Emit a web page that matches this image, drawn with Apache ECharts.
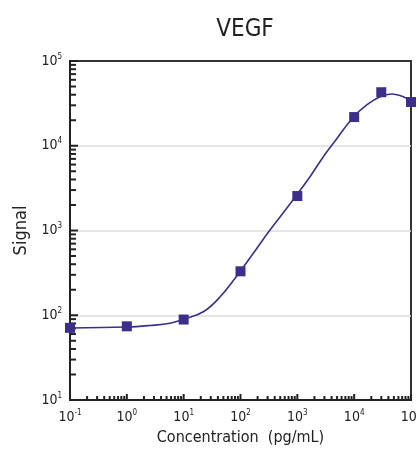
<!DOCTYPE html>
<html>
<head>
<meta charset="utf-8">
<script src="https://cdn.jsdelivr.net/npm/echarts@6/dist/echarts.min.js"></script>
<style>
html, body { margin: 0; padding: 0; background: #fff; }
#chart { width: 417px; height: 455px; }
</style>
</head>
<body>
<div id="chart"></div>
<script>
// measured points (pg/mL, signal)
var concX = [0.1, 1, 10, 100, 1000, 10000, 30000, 100000];
var signalY = [71, 74, 89, 330, 2550, 21800, 42800, 32800];
// fitted curve
var fitX = [0.1, 1, 2.56, 5.75, 9.87, 22.2, 43.5, 98, 168, 330, 650, 975, 1671, 2866, 4295, 9660, 16630, 28500, 45800, 73300, 100000];
var fitY = [70.8, 72.6, 75.7, 80.4, 89.6, 110, 164, 327, 538, 1014, 1828, 2625, 4315, 7430, 10700, 21700, 30300, 37900, 40800, 37900, 33300];
// axis decades (exponents)
var xDecades = [-1, 0, 1, 2, 3, 4, 5];
var yDecades = [1, 2, 3, 4, 5];

var FONT = "'DejaVu Sans Condensed', 'Liberation Sans Narrow', sans-serif";
var COLOR = '#3d2e8a';

// tick marks at 1..9 x 10^n
function logTicks(decades) {
    var out = [];
    for (var i = 0; i < decades.length; i++) {
        var base = Math.pow(10, decades[i]);
        out.push([base, 1]);
        if (i < decades.length - 1) {
            for (var k = 2; k <= 9; k++) {
                out.push([k * base, 0]);
            }
        }
    }
    return out;
}

var xTicks = logTicks(xDecades);
var yTicks = logTicks(yDecades);
var xMin = Math.pow(10, xDecades[0]), xMax = Math.pow(10, xDecades[xDecades.length - 1]);
var yMin = Math.pow(10, yDecades[0]), yMax = Math.pow(10, yDecades[yDecades.length - 1]);

function powLabel(v) {
    var e = Math.round(Math.log(v) / Math.LN10);
    return '{b|10}{s|' + e + '}';
}

var richLabel = {
    b: {fontFamily: FONT, fontSize: 14, color: '#222'},
    s: {fontFamily: FONT, fontSize: 8, color: '#222', padding: [0, 0, 9, 0]}
};

var chart = echarts.init(document.getElementById('chart'));
chart.setOption({
    animation: false,
    title: {
        text: 'VEGF',
        left: 240,
        textAlign: 'center',
        top: 13,
        textStyle: {fontFamily: FONT, fontSize: 24, fontWeight: 'normal', color: '#222'}
    },
    grid: {
        left: 70, right: 6, top: 61, bottom: 55,
        outerBoundsMode: 'none',
        containLabel: false,
        show: true, borderColor: '#333', borderWidth: 2, backgroundColor: '#fff'
    },
    xAxis: {
        type: 'log', logBase: 10, min: xMin, max: xMax, splitNumber: 6,
        name: 'Concentration  (pg/mL)', nameLocation: 'middle', nameGap: 25,
        nameTextStyle: {fontFamily: FONT, fontSize: 16, color: '#222'},
        axisLine: {show: true, lineStyle: {color: '#222', width: 2}},
        axisTick: {show: false},
        splitLine: {show: false},
        axisLabel: {margin: 9, formatter: powLabel, rich: richLabel}
    },
    yAxis: {
        type: 'log', logBase: 10, min: yMin, max: yMax, splitNumber: 4,
        name: 'Signal', nameLocation: 'middle', nameGap: 40, nameRotate: 90,
        nameTextStyle: {fontFamily: FONT, fontSize: 18, color: '#222'},
        axisLine: {show: true, lineStyle: {color: '#222', width: 2}},
        axisTick: {show: false},
        splitLine: {show: true, showMinLine: false, showMaxLine: false, lineStyle: {color: '#ddd', width: 1.5}},
        axisLabel: {margin: 8, formatter: powLabel, rich: richLabel}
    },
    series: [
        {
            type: 'custom',
            silent: true,
            clip: false,
            data: xTicks,
            renderItem: function (params, api) {
                var p = api.coord([api.value(0), yMin]);
                var len = api.value(1) ? 6 : 4;
                return {
                    type: 'line',
                    shape: {x1: p[0], y1: p[1], x2: p[0], y2: p[1] - len},
                    style: {stroke: '#222', lineWidth: 2}
                };
            }
        },
        {
            type: 'custom',
            silent: true,
            clip: false,
            data: yTicks.map(function (t) { return [xMin, t[0], t[1]]; }),
            renderItem: function (params, api) {
                var p = api.coord([xMin, api.value(1)]);
                var len = api.value(2) ? 8 : 6;
                return {
                    type: 'line',
                    shape: {x1: p[0], y1: p[1], x2: p[0] + len, y2: p[1]},
                    style: {stroke: '#222', lineWidth: 2}
                };
            }
        },
        {
            type: 'line',
            data: fitX.map(function (x, i) { return [x, fitY[i]]; }),
            smooth: 0.4,
            showSymbol: false,
            clip: false,
            lineStyle: {color: COLOR, width: 1.6},
            z: 3
        },
        {
            type: 'scatter',
            data: concX.map(function (x, i) { return [x, signalY[i]]; }),
            symbol: 'rect',
            symbolSize: 10,
            clip: false,
            itemStyle: {color: COLOR, opacity: 1},
            z: 4
        }
    ]
});
</script>
</body>
</html>
